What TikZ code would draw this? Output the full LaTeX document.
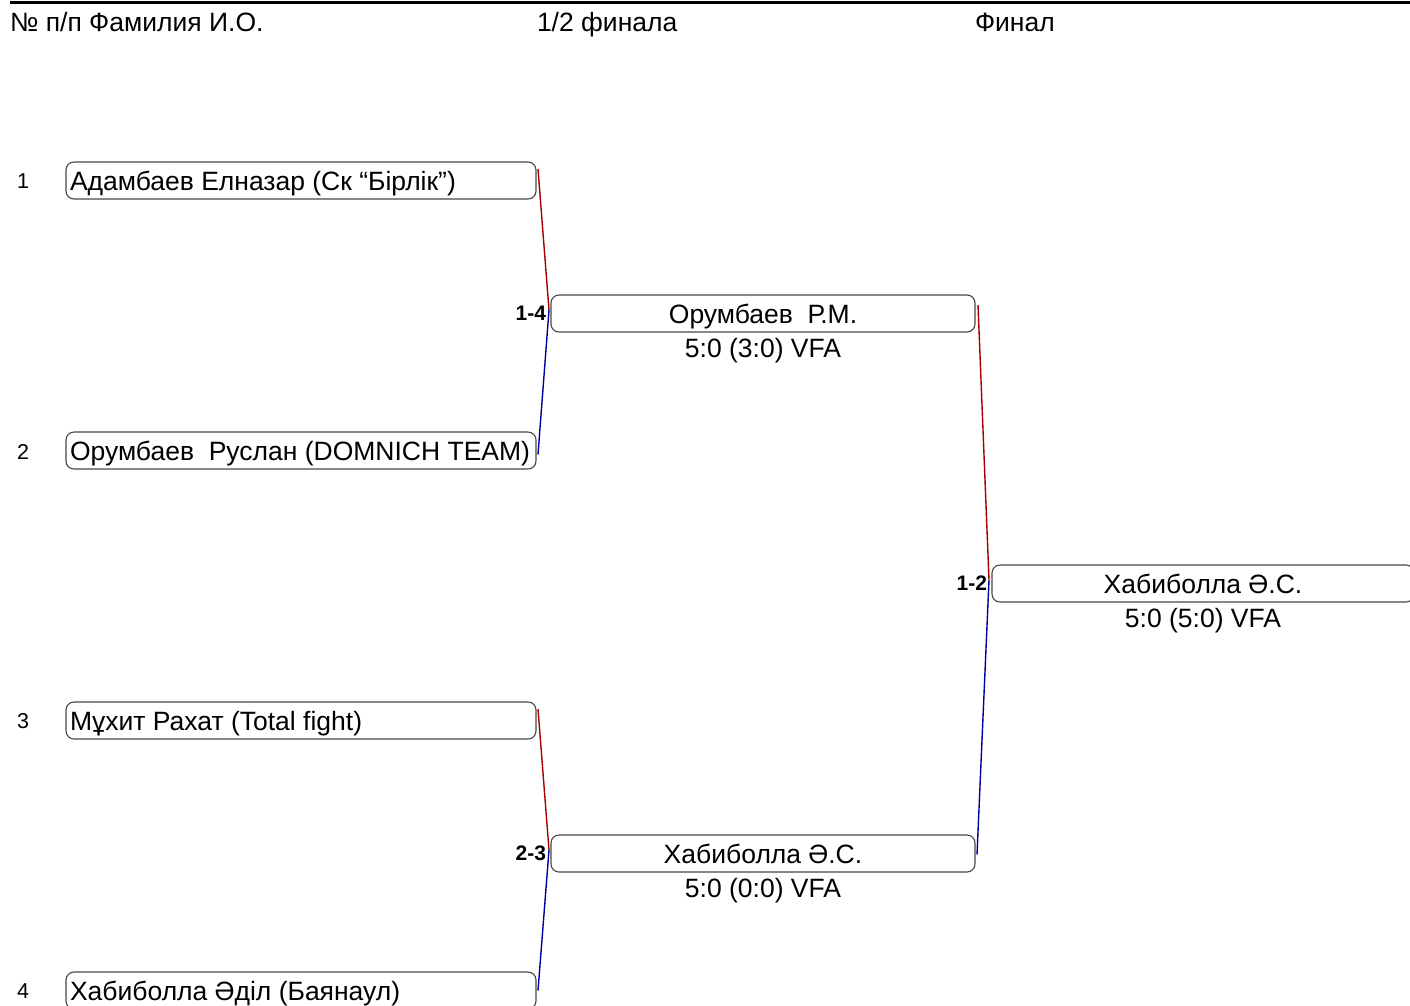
\documentclass[tikz,border=0pt]{standalone}
\usepackage{fontspec}
\setmainfont{Liberation Sans}
\usetikzlibrary{calc}
\definecolor{boxgray}{RGB}{70,70,70}
\definecolor{winred}{RGB}{165,0,0}
\definecolor{loseblue}{RGB}{0,0,160}
\newcommand{\lbox}[1]{\makebox[462pt][l]{#1}}
\begin{document}
\begin{tikzpicture}[x=1pt,y=-1pt,
  every node/.style={inner sep=0pt,outer sep=0pt},
  bigtext/.style={font=\fontsize{26.5}{30}\selectfont},
  smalltext/.style={font=\fontsize{21.5}{24}\selectfont},
  pairlabel/.style={font=\fontsize{21}{24}\selectfont\bfseries,anchor=east},
  entrant/.style={bigtext,draw=boxgray,line width=1.1pt,rounded corners=8pt,
    minimum height=37pt,minimum width=470pt,
    text height=19pt,text depth=0pt},
  winner/.style={bigtext,draw=boxgray,line width=1.1pt,rounded corners=8pt,
    minimum height=37pt,minimum width=424pt,align=center,
    text height=19pt,text depth=0pt},
  finalbox/.style={winner,minimum width=422pt},
  redline/.style={draw=winred,line width=1.4pt},
  blueline/.style={draw=loseblue,line width=1.4pt}]
\useasboundingbox (0,0) rectangle (1410,1005);

% top rule
\coordinate (rl) at (10,2.5);
\coordinate (rr) at (1410,2.5);
\draw[line width=2.6pt] (rl) -- (rr);

% header
\node[bigtext,anchor=base west] (h1) at (10,31) {№ п/п\ Фамилия И.О.};
\node[bigtext,anchor=base west] (h2) at (537,31) {1/2 финала};
\node[bigtext,anchor=base west] (h3) at (975,31) {Финал};

% entrants
\node[entrant] (b1) at (301,180.5) {\lbox{Адамбаев Елназар (Ск “Бірлік”)}};
\node[entrant] (b2) at (301,450.5) {\lbox{Орумбаев\ \ Руслан (DOMNICH TEAM)}};
\node[entrant] (b3) at (301,720.5) {\lbox{Мұхит Рахат (Total fight)}};
\node[entrant] (b4) at (301,990.5) {\lbox{Хабиболла Әділ (Баянаул)}};

\node[smalltext] (n1) at (23,181.5) {1};
\node[smalltext] (n2) at (23,451.5) {2};
\node[smalltext] (n3) at (23,721.5) {3};
\node[smalltext] (n4) at (23,991.5) {4};

% semifinal winners
\node[winner] (s1) at (763,313.5) {Орумбаев\ \ Р.М.};
\node[bigtext,anchor=base] (r1) at ($(s1.south)+(0,25.5)$) {5:0 (3:0) VFA};
\node[winner] (s2) at (763,853.5) {Хабиболла Ә.С.};
\node[bigtext,anchor=base] (r2) at ($(s2.south)+(0,25.5)$) {5:0 (0:0) VFA};

% final winner
\node[finalbox] (f) at (1203,583.5) {Хабиболла Ә.С.};
\node[bigtext,anchor=base] (r3) at ($(f.south)+(0,25.5)$) {5:0 (5:0) VFA};

% pair labels
\node[pairlabel] (l1) at ($(s1.west)+(-5,0)$) {1-4};
\node[pairlabel] (l2) at ($(s2.west)+(-5,0)$) {2-3};
\node[pairlabel] (l3) at ($(f.west)+(-5,0)$) {1-2};

% joins
\coordinate (j1) at ($(s1.west)+(-2,-3.5)$);
\coordinate (j2) at ($(s2.west)+(-2,-3.5)$);
\coordinate (j3) at ($(f.west)+(-3,-3.5)$);

\draw[redline] ($(b1.north east)+(2,7)$) -- (j1);
\draw[blueline] (j1) -- ($(b2.east)+(2,4)$);
\draw[redline] ($(b3.north east)+(2,7)$) -- (j2);
\draw[blueline] (j2) -- ($(b4.east)+(2,0)$);
\draw[redline] ($(s1.north east)+(3,10)$) -- (j3);
\draw[blueline] (j3) -- ($(s2.east)+(2,1)$);
\end{tikzpicture}
\end{document}
